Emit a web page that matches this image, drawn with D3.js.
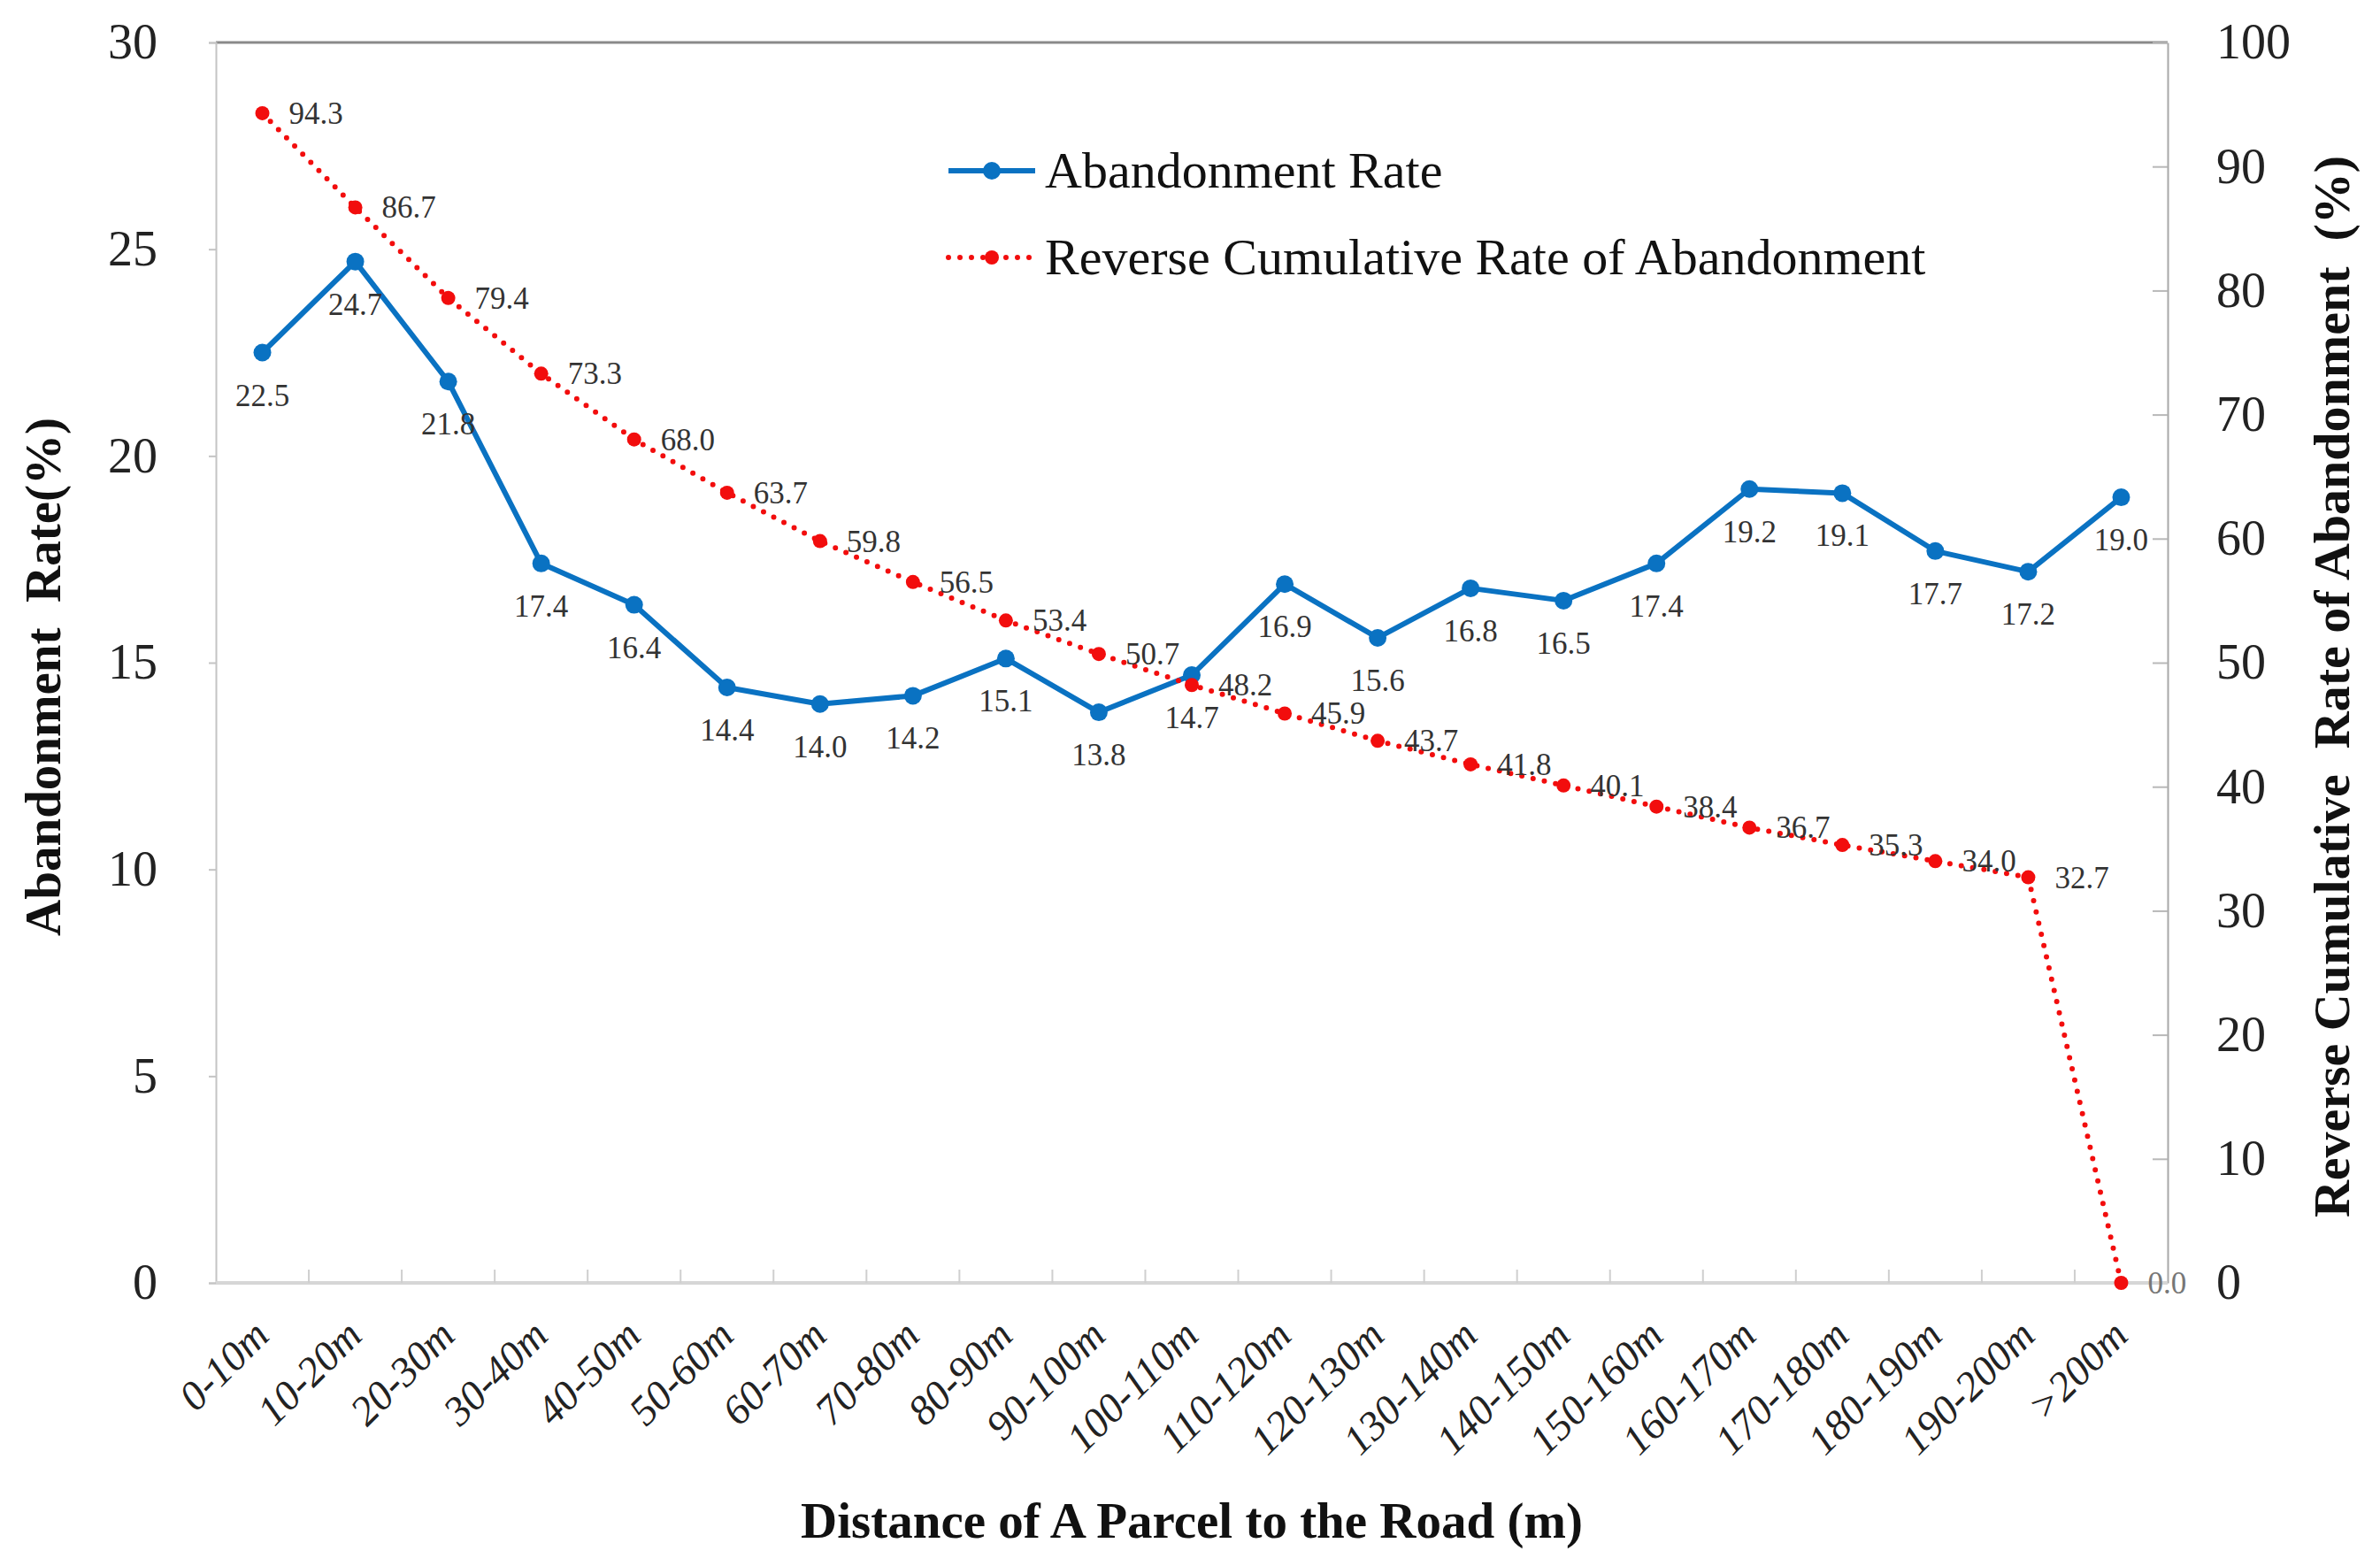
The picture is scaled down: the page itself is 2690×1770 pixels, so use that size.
<!DOCTYPE html>
<html>
<head>
<meta charset="utf-8">
<script src="https://cdn.jsdelivr.net/npm/d3@7"></script>
<style>
  body { margin: 0; background: #fff; }
  text { font-family: "Liberation Serif", "Times New Roman", serif; }
</style>
</head>
<body>
<div id="chart"></div>
<script>
const width = 2690, height = 1770;

const categories = ["0-10m", "10-20m", "20-30m", "30-40m", "40-50m", "50-60m", "60-70m",
    "70-80m", "80-90m", "90-100m", "100-110m", "110-120m", "120-130m", "130-140m",
    "140-150m", "150-160m", "160-170m", "170-180m", "180-190m", "190-200m", ">200m"];
const abandonmentRate = [22.5, 24.7, 21.8, 17.4, 16.4, 14.4, 14.0, 14.2, 15.1, 13.8,
    14.7, 16.9, 15.6, 16.8, 16.5, 17.4, 19.2, 19.1, 17.7, 17.2, 19.0];
const reverseCumulative = [94.3, 86.7, 79.4, 73.3, 68.0, 63.7, 59.8, 56.5, 53.4, 50.7,
    48.2, 45.9, 43.7, 41.8, 40.1, 38.4, 36.7, 35.3, 34.0, 32.7, 0.0];
const leftTicks = [0, 5, 10, 15, 20, 25, 30];
const rightTicks = [0, 10, 20, 30, 40, 50, 60, 70, 80, 90, 100];
const legendLabels = ["Abandonment Rate", "Reverse Cumulative Rate of Abandonment"];

const blue = "#0a72c2", red = "#f20d0d";
const plot = { left: 244, right: 2450, top: 48, bottom: 1450 };

const svg = d3.select("#chart").append("svg")
    .attr("width", width)
    .attr("height", height);

const x = d3.scaleBand().domain(categories).range([plot.left, plot.right]).padding(0);
const yL = d3.scaleLinear().domain([0, 30]).range([plot.bottom, plot.top]);
const yR = d3.scaleLinear().domain([0, 100]).range([plot.bottom, plot.top]);
const cx = d => x(d) + x.bandwidth() / 2;

// top border
svg.append("line")
    .attr("x1", plot.left).attr("x2", plot.right)
    .attr("y1", plot.top).attr("y2", plot.top)
    .attr("stroke", "#8a8a8a").attr("stroke-width", 3);

// left axis
const gL = svg.append("g")
    .attr("transform", `translate(${plot.left},0)`)
    .call(d3.axisLeft(yL).tickValues(leftTicks).tickSize(8).tickPadding(58));
gL.select(".domain").attr("stroke", "#c4c4c4").attr("stroke-width", 2);
gL.selectAll(".tick line").attr("stroke", "#c4c4c4").attr("stroke-width", 2);
gL.selectAll(".tick text")
    .attr("font-family", "Liberation Serif").attr("font-size", 56).attr("fill", "#222");

// right axis
const gR = svg.append("g")
    .attr("transform", `translate(${plot.right},0)`)
    .call(d3.axisRight(yR).tickValues(rightTicks).tickSizeInner(-17).tickSizeOuter(0).tickPadding(55));
gR.select(".domain").attr("stroke", "#a8a8a8").attr("stroke-width", 2);
gR.selectAll(".tick line").attr("stroke", "#b8b8b8").attr("stroke-width", 2);
gR.selectAll(".tick text")
    .attr("font-family", "Liberation Serif").attr("font-size", 56).attr("fill", "#222");

// bottom axis with ticks at category boundaries
svg.append("line")
    .attr("x1", plot.left).attr("x2", plot.right)
    .attr("y1", plot.bottom).attr("y2", plot.bottom)
    .attr("stroke", "#d6d6d6").attr("stroke-width", 4);
svg.selectAll("line.xtick")
    .data(categories.slice(1))
    .enter().append("line")
    .attr("class", "xtick")
    .attr("x1", d => x(d)).attr("x2", d => x(d))
    .attr("y1", plot.bottom).attr("y2", plot.bottom - 15)
    .attr("stroke", "#cfcfcf").attr("stroke-width", 2);
svg.selectAll("text.xlabel")
    .data(categories)
    .enter().append("text")
    .attr("class", "xlabel")
    .attr("transform", d => `translate(${cx(d) + 10},${plot.bottom + 62}) rotate(-45)`)
    .attr("text-anchor", "end")
    .attr("font-style", "italic")
    .attr("font-size", 47)
    .attr("fill", "#222")
    .text(d => d);

// axis titles
svg.append("text")
    .attr("transform", `translate(68,765) rotate(-90)`)
    .attr("text-anchor", "middle")
    .attr("font-weight", "bold")
    .attr("font-size", 57)
    .attr("fill", "#111")
    .style("white-space", "pre")
    .text("Abandonment  Rate(%)");

svg.append("text")
    .attr("transform", `translate(2655,776) rotate(-90)`)
    .attr("text-anchor", "middle")
    .attr("font-weight", "bold")
    .attr("font-size", 58)
    .attr("fill", "#111")
    .style("white-space", "pre")
    .text("Reverse Cumulative  Rate of Abandonment  (%)");

svg.append("text")
    .attr("x", (plot.left + plot.right) / 2)
    .attr("y", 1738)
    .attr("text-anchor", "middle")
    .attr("font-weight", "bold")
    .attr("font-size", 57)
    .attr("fill", "#111")
    .text("Distance of A Parcel to the Road (m)");

// abandonment rate series
const blueData = categories.map((c, i) => ({ c, v: abandonmentRate[i] }));
const redData = categories.map((c, i) => ({ c, v: reverseCumulative[i] }));

svg.append("path")
    .datum(blueData)
    .attr("fill", "none")
    .attr("stroke", blue)
    .attr("stroke-width", 6)
    .attr("stroke-linejoin", "round")
    .attr("d", d3.line().x(d => cx(d.c)).y(d => yL(d.v)));

svg.selectAll("circle.blue")
    .data(blueData)
    .enter().append("circle")
    .attr("class", "blue")
    .attr("cx", d => cx(d.c)).attr("cy", d => yL(d.v))
    .attr("r", 10).attr("fill", blue);

svg.selectAll("text.blueLabel")
    .data(blueData)
    .enter().append("text")
    .attr("class", "blueLabel")
    .attr("x", d => cx(d.c)).attr("y", d => yL(d.v) + 60)
    .attr("text-anchor", "middle")
    .attr("font-size", 35)
    .attr("fill", "#333")
    .text(d => d.v.toFixed(1));

// reverse cumulative series (right axis)
svg.append("path")
    .datum(redData)
    .attr("fill", "none")
    .attr("stroke", red)
    .attr("stroke-width", 6)
    .attr("stroke-linecap", "round")
    .attr("stroke-dasharray", "0 13")
    .attr("d", d3.line().x(d => cx(d.c)).y(d => yR(d.v)));

svg.selectAll("circle.red")
    .data(redData)
    .enter().append("circle")
    .attr("class", "red")
    .attr("cx", d => cx(d.c)).attr("cy", d => yR(d.v))
    .attr("r", 8).attr("fill", red);

svg.selectAll("text.redLabel")
    .data(redData)
    .enter().append("text")
    .attr("class", "redLabel")
    .attr("x", d => cx(d.c) + 30).attr("y", d => yR(d.v) + 12)
    .attr("font-size", 35)
    .attr("fill", d => d.v === 0 ? "#777" : "#333")
    .text(d => d.v.toFixed(1));

// legend
const legendY = [193, 291];
const legend = svg.append("g");
legendLabels.forEach((label, i) => {
    const color = i === 0 ? blue : red;
    const line = legend.append("line")
        .attr("x1", 1072).attr("x2", 1170)
        .attr("y1", legendY[i]).attr("y2", legendY[i])
        .attr("stroke", color);
    if (i === 0) {
        line.attr("stroke-width", 6);
    } else {
        line.attr("stroke-width", 6).attr("stroke-linecap", "round").attr("stroke-dasharray", "0 13");
    }
    legend.append("circle")
        .attr("cx", 1121).attr("cy", legendY[i])
        .attr("r", i === 0 ? 10 : 8).attr("fill", color);
    legend.append("text")
        .attr("x", 1181).attr("y", legendY[i] + 19)
        .attr("font-size", 58)
        .attr("fill", "#111")
        .text(label);
});
</script>
</body>
</html>
